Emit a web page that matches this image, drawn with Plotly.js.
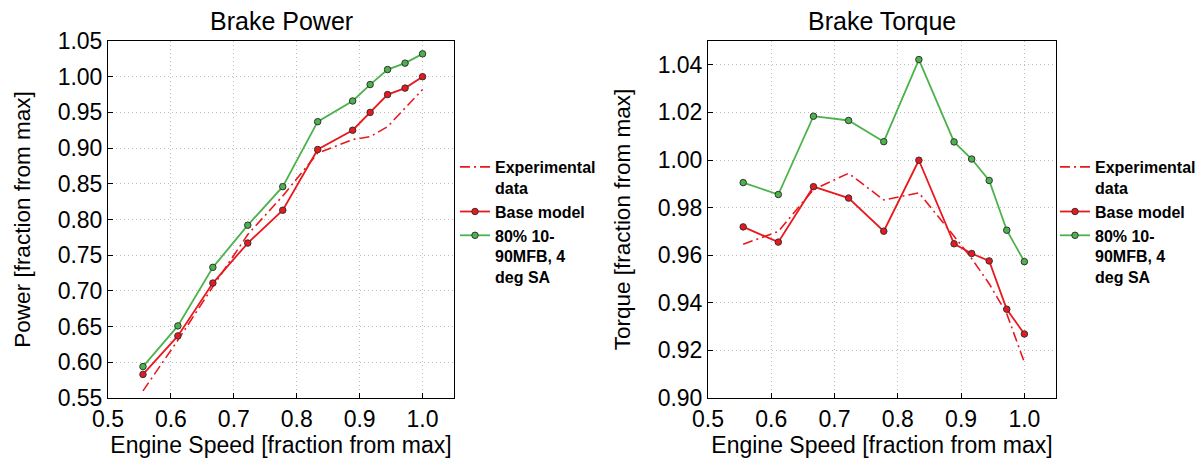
<!DOCTYPE html>
<html>
<head>
<meta charset="utf-8">
<script src="https://cdn.plot.ly/plotly-3.0.1.min.js"></script>
<style>html,body{margin:0;padding:0;background:#fff;}#chart{width:1201px;height:461px;}</style>
</head>
<body>
<div id="chart"></div>
<script>
// Engine speed (fraction from max)
const speed = [0.5556, 0.6111, 0.6667, 0.7222, 0.7778, 0.8333, 0.8889, 0.9167, 0.9444, 0.9722, 1.0];

// Brake power (fraction from max)
const powerExp  = [0.560, 0.631, 0.706, 0.779, 0.833, 0.893, 0.912, 0.916, 0.930, 0.956, 0.982];
const powerBase = [0.583, 0.637, 0.711, 0.767, 0.813, 0.898, 0.925, 0.950, 0.975, 0.984, 1.000];
const powerMfb  = [0.594, 0.651, 0.733, 0.792, 0.846, 0.937, 0.966, 0.989, 1.010, 1.019, 1.032];

// Brake torque (fraction from max)
const torqueExp  = [0.9646, 0.970, 0.9876, 0.9944, 0.9832, 0.9862, 0.968, 0.9586, 0.9480, 0.9354, 0.915];
const torqueBase = [0.9719, 0.9655, 0.9888, 0.9840, 0.9701, 0.9999, 0.9648, 0.9607, 0.9576, 0.9373, 0.9269];
const torqueMfb  = [0.9905, 0.9855, 1.0184, 1.0166, 1.0077, 1.0422, 1.0076, 1.0004, 0.9914, 0.9705, 0.9573];

const names = ['Experimental<br>data', 'Base model', '80% 10-<br>90MFB, 4<br>deg SA'];
const xTicks = [0.5, 0.6, 0.7, 0.8, 0.9, 1.0];
const xTickText = ['0.5', '0.6', '0.7', '0.8', '0.9', '1.0'];
const powerTicks = [0.55, 0.60, 0.65, 0.70, 0.75, 0.80, 0.85, 0.90, 0.95, 1.00, 1.05];
const torqueTicks = [0.90, 0.92, 0.94, 0.96, 0.98, 1.00, 1.02, 1.04];

const RED = '#e8191e';
const GREEN = '#4cb24c';
const FONT = 'Liberation Sans, Arial, sans-serif';

function traces(yExp, yBase, yMfb, xa, ya, lg) {
  return [
    {x: speed, y: yExp, xaxis: xa, yaxis: ya, legend: lg, name: names[0], mode: 'lines',
     line: {color: RED, width: 1.6, dash: '10px,4px,2px,4px'}},
    {x: speed, y: yBase, xaxis: xa, yaxis: ya, legend: lg, name: names[1], mode: 'lines+markers',
     line: {color: RED, width: 1.8}, marker: {size: 6.5, color: RED, line: {color: '#333', width: 1}}},
    {x: speed, y: yMfb, xaxis: xa, yaxis: ya, legend: lg, name: names[2], mode: 'lines+markers',
     line: {color: GREEN, width: 1.8}, marker: {size: 6.5, color: GREEN, line: {color: '#333', width: 1}}}
  ];
}

const data = [].concat(
  traces(powerExp, powerBase, powerMfb, 'x', 'y', 'legend'),
  traces(torqueExp, torqueBase, torqueMfb, 'x2', 'y2', 'legend2')
);

const GRID = {showgrid: true, gridcolor: '#bdbdbd', griddash: '1px,3px', gridwidth: 1};

function xAxis(domain, anchor) {
  return Object.assign({
    domain: domain, anchor: anchor, range: [0.5, 1.05],
    tickvals: xTicks, ticktext: xTickText,
    ticks: 'inside', ticklen: 5, tickcolor: '#000', tickwidth: 1,
    showline: true, linecolor: '#000', linewidth: 1, mirror: true,
    zeroline: false, tickfont: {family: FONT, size: 23, color: '#000'},
    title: {text: 'Engine Speed [fraction from max]', font: {family: FONT, size: 23, color: '#000'}, standoff: 4},
    automargin: false
  }, GRID);
}
function yAxis(domain, anchor, range, ticks, title) {
  return Object.assign({
    domain: domain, anchor: anchor, range: range,
    tickvals: ticks, ticktext: ticks.map(v => v.toFixed(2)),
    ticks: 'inside', ticklen: 5, tickcolor: '#000', tickwidth: 1,
    showline: true, linecolor: '#000', linewidth: 1, mirror: true,
    zeroline: false, tickfont: {family: FONT, size: 23, color: '#000'},
    title: {text: title, font: {family: FONT, size: 22.5, color: '#000'}, standoff: 20},
    automargin: false
  }, GRID);
}

const yDom = [1 - 398/461, 1 - 41/461];
const legendStyle = {
  font: {family: FONT, size: 16, color: '#000', weight: 'bold'},
  bgcolor: 'rgba(0,0,0,0)', borderwidth: 0, xanchor: 'left', yanchor: 'top',
  tracegroupgap: 0, itemwidth: 30, valign: 'top'
};

const layout = {
  width: 1201, height: 461,
  margin: {l: 0, r: 0, t: 0, b: 0},
  paper_bgcolor: '#fff', plot_bgcolor: '#fff',
  showlegend: true,
  xaxis: xAxis([108/1201, 454/1201], 'y'),
  yaxis: yAxis(yDom, 'x', [0.55, 1.05], powerTicks, 'Power [fraction from max]'),
  xaxis2: xAxis([708/1201, 1056/1201], 'y2'),
  yaxis2: yAxis(yDom, 'x2', [0.90, 1.05], torqueTicks, 'Torque [fraction from max]'),
  legend: Object.assign({x: 455/1201, y: 1 - 150/461}, legendStyle),
  legend2: Object.assign({x: 1055/1201, y: 1 - 150/461}, legendStyle),
  annotations: [
    {text: 'Brake Power', x: 281/1201, y: 1 - 21/461, xref: 'paper', yref: 'paper',
     showarrow: false, xanchor: 'center', yanchor: 'middle', font: {family: FONT, size: 25, color: '#000'}},
    {text: 'Brake Torque', x: 882/1201, y: 1 - 21/461, xref: 'paper', yref: 'paper',
     showarrow: false, xanchor: 'center', yanchor: 'middle', font: {family: FONT, size: 25, color: '#000'}}
  ]
};

Plotly.newPlot('chart', data, layout, {displayModeBar: false, staticPlot: true});
</script>
</body>
</html>
